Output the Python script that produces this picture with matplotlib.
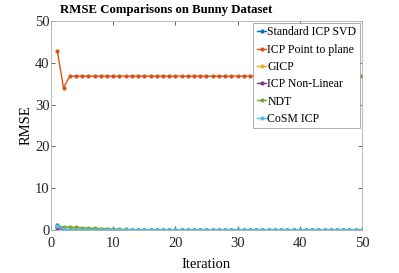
import matplotlib
matplotlib.use("Agg")
import matplotlib.pyplot as plt
import numpy as np

plt.rcParams['font.family'] = ['Liberation Serif', 'DejaVu Serif']

iters = np.arange(1, 51)

# RMSE per iteration
svd = [1.2, 0.05, 0.02, 0.01] + [0.0] * 46
p2plane = [42.8, 34.0] + [36.8] * 48
gicp = [0.7, 0.55, 0.45, 0.38, 0.3, 0.24, 0.18, 0.13, 0.09, 0.06, 0.04, 0.02] + [0.01] * 38
nonlin = [0.5, 0.05, 0.02] + [0.0] * 47
ndt = [0.85, 0.75, 0.68, 0.6, 0.52, 0.45, 0.38, 0.32, 0.26, 0.2, 0.15, 0.1, 0.06,
       0.04, 0.02] + [0.01] * 35
cosm = [1.0, 0.1, 0.08, 0.06] + [0.05] * 46

labels = ["Standard ICP SVD", "ICP Point to plane", "GICP", "ICP Non-Linear", "NDT", "CoSM ICP"]
colors = ["#0072BD", "#D95319", "#EDB120", "#7E2F8E", "#77AC30", "#4DBEEE"]
series = [svd, p2plane, gicp, nonlin, ndt, cosm]

fig = plt.figure(figsize=(3.99, 2.73), dpi=100)
ax = fig.add_axes([0.128, 0.158, 0.779, 0.765])

for y, c, lab in zip(series, colors, labels):
  ax.plot(iters, y, color=c, marker='.', markersize=4, linewidth=1.0, label=lab)

ax.set_xlim(0, 50)
ax.set_ylim(0, 50)
ax.set_xticks(np.arange(0, 51, 10))
ax.set_yticks(np.arange(0, 51, 10))
ax.tick_params(direction='in', top=True, right=True, labelsize=10.5, colors='#262626',
               length=3, width=0.5)
ax.tick_params(axis='x', pad=5)
ax.tick_params(axis='y', pad=1)
for tl in ax.get_xticklabels() + ax.get_yticklabels():
  tl.set_color('#262626')
for s in ax.spines.values():
  s.set_color('#b0b0b0')
  s.set_linewidth(0.6)

ax.set_xlabel("Iteration", fontsize=10.5, labelpad=6)
ax.set_ylabel("RMSE", fontsize=10.5, labelpad=2)
fig.text(60 / 399, 1 - 10 / 273, "RMSE Comparisons on Bunny Dataset", fontsize=9.2,
         fontweight='bold', ha='left', va='center')

leg = ax.legend(loc='upper right', fontsize=8.5, handlelength=0.8, handletextpad=0.1,
                borderaxespad=0.15, labelspacing=0.45, borderpad=0.3, fancybox=False,
                framealpha=1.0)
leg.get_frame().set_edgecolor('#a0a0a0')
leg.get_frame().set_linewidth(0.6)

plt.savefig("out.png", dpi=100)
